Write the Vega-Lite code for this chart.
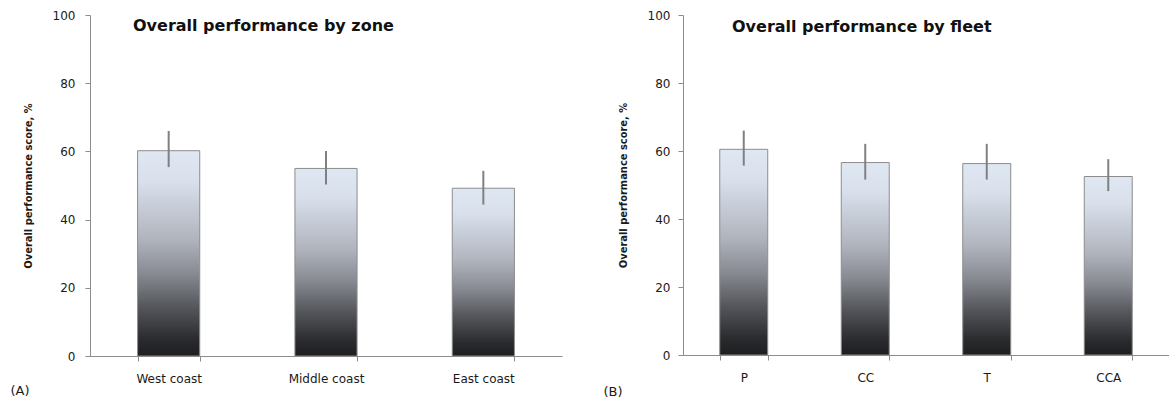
{
  "$schema": "https://vega.github.io/schema/vega-lite/v6.json",
  "padding": {"left": 10, "top": 9, "right": 0, "bottom": 0},
  "background": "white",
  "spacing": 41,
  "datasets": {
    "zone": [
      {"group": "West coast", "score": 60.2, "lo": 55.4, "hi": 66.0},
      {"group": "Middle coast", "score": 55.0, "lo": 50.3, "hi": 60.1},
      {"group": "East coast", "score": 49.2, "lo": 44.4, "hi": 54.3}
    ],
    "fleet": [
      {"group": "P", "score": 60.5, "lo": 55.7, "hi": 66.0},
      {"group": "CC", "score": 56.6, "lo": 51.6, "hi": 62.1},
      {"group": "T", "score": 56.3, "lo": 51.6, "hi": 62.1},
      {"group": "CCA", "score": 52.5, "lo": 48.2, "hi": 57.6}
    ]
  },
  "config": {
    "view": {"stroke": null},
    "axis": {
      "domainColor": "#8c8c8c",
      "tickColor": "#8c8c8c",
      "tickSize": 5,
      "grid": false,
      "labelFont": "DejaVu Sans",
      "labelFontSize": 12,
      "labelColor": "#1a1a1a",
      "titleColor": "#1a1a1a"
    },
    "title": {
      "font": "DejaVu Sans",
      "fontSize": 16,
      "fontWeight": "bold",
      "color": "#111111",
      "anchor": "start",
      "frame": "group",
      "baseline": "alphabetic",
      "offset": -12
    }
  },
  "hconcat": [
    {
      "width": 472,
      "height": 341,
      "data": {"name": "zone"},
      "title": {"text": "Overall performance by zone", "dx": 43, "dy": 13},
      "encoding": {
        "x": {
          "field": "group", "type": "nominal", "sort": null,
          "scale": {"paddingInner": 0.605, "paddingOuter": 0.3025},
          "axis": {
            "labelAngle": 0, "tickBand": "extent", "labelPadding": 12,
            "title": "(A)", "titleX": -80, "titleY": 34, "titleAlign": "left",
            "titleBaseline": "middle", "titleFont": "DejaVu Sans", "titleFontSize": 13,
            "titleFontWeight": "normal"
          }
        }
      },
      "layer": [
        {
          "mark": {
            "type": "bar",
            "stroke": "#8c8c8c",
            "strokeWidth": 1,
            "color": {
              "gradient": "linear", "x1": 0, "y1": 0, "x2": 0, "y2": 1,
              "stops": [
                {"offset": 0, "color": "#dfe7f3"},
                {"offset": 0.15, "color": "#d9e0ec"},
                {"offset": 0.43, "color": "#b0b4bd"},
                {"offset": 0.6, "color": "#878a91"},
                {"offset": 0.76, "color": "#55575c"},
                {"offset": 0.92, "color": "#2a2b2e"},
                {"offset": 1, "color": "#1e1e20"}
              ]
            }
          },
          "encoding": {
            "y": {
              "field": "score", "type": "quantitative",
              "scale": {"domain": [0, 100], "nice": false},
              "axis": {
                "values": [0, 20, 40, 60, 80, 100], "labelPadding": 10,
                "title": "Overall performance score, %", "titleX": -62,
                "titleBaseline": "middle", "titleFont": "DejaVu Sans Condensed",
                "titleFontSize": 11, "titleFontWeight": "bold"
              }
            }
          }
        },
        {
          "mark": {"type": "rule", "color": "#808080", "strokeWidth": 2},
          "encoding": {
            "y": {"field": "lo", "type": "quantitative"},
            "y2": {"field": "hi"}
          }
        }
      ]
    },
    {
      "width": 486,
      "height": 340,
      "data": {"name": "fleet"},
      "title": {"text": "Overall performance by fleet", "dx": 49, "dy": 14},
      "encoding": {
        "x": {
          "field": "group", "type": "nominal", "sort": null,
          "scale": {"paddingInner": 0.605, "paddingOuter": 0.3025},
          "axis": {
            "labelAngle": 0, "tickBand": "extent", "labelPadding": 12,
            "title": "(B)", "titleX": -80, "titleY": 36, "titleAlign": "left",
            "titleBaseline": "middle", "titleFont": "DejaVu Sans", "titleFontSize": 13,
            "titleFontWeight": "normal"
          }
        }
      },
      "layer": [
        {
          "mark": {
            "type": "bar",
            "stroke": "#8c8c8c",
            "strokeWidth": 1,
            "color": {
              "gradient": "linear", "x1": 0, "y1": 0, "x2": 0, "y2": 1,
              "stops": [
                {"offset": 0, "color": "#dfe7f3"},
                {"offset": 0.15, "color": "#d9e0ec"},
                {"offset": 0.43, "color": "#b0b4bd"},
                {"offset": 0.6, "color": "#878a91"},
                {"offset": 0.76, "color": "#55575c"},
                {"offset": 0.92, "color": "#2a2b2e"},
                {"offset": 1, "color": "#1e1e20"}
              ]
            }
          },
          "encoding": {
            "y": {
              "field": "score", "type": "quantitative",
              "scale": {"domain": [0, 100], "nice": false},
              "axis": {
                "values": [0, 20, 40, 60, 80, 100], "labelPadding": 8,
                "title": "Overall performance score, %", "titleX": -60,
                "titleBaseline": "middle", "titleFont": "DejaVu Sans Condensed",
                "titleFontSize": 11, "titleFontWeight": "bold"
              }
            }
          }
        },
        {
          "mark": {"type": "rule", "color": "#808080", "strokeWidth": 2},
          "encoding": {
            "y": {"field": "lo", "type": "quantitative"},
            "y2": {"field": "hi"}
          }
        }
      ]
    }
  ]
}
